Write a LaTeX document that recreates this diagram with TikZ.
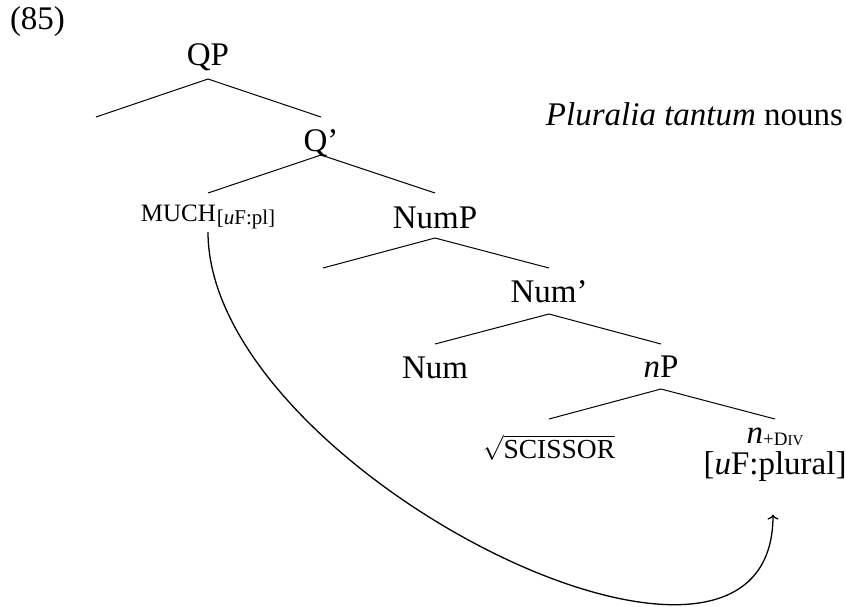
\documentclass[tikz,border=0pt]{standalone}
\usepackage{fontspec}
\setmainfont{Liberation Serif}
\usetikzlibrary{arrows.meta}
\begin{document}
\begin{tikzpicture}[x=1pt,y=-1pt,
  lab/.style={inner sep=0pt, outer sep=0pt, anchor=base, font=\fontsize{33}{40}\selectfont},
  br/.style={line width=1pt},
  arc/.style={line width=1.3pt, -{To[length=5pt,width=11pt]}}
]
\useasboundingbox (0,0) rectangle (846,606);
% labels
\node[lab, anchor=base west] (ex) at (10,29) {(85)};
\node[lab, anchor=base east] (title) at (843,125) {\textit{Pluralia tantum} nouns};
% tree nodes
\node[lab] (qp) at (208,65) {QP};
\node[lab] (qbar) at (321,151) {Q’};
\node[lab] (much) at (208,221) {{\fontsize{25}{28}\selectfont MUCH}\hspace{1pt}\raisebox{-3pt}{\fontsize{21}{24}\selectfont [\textit{u}F:pl]}};
\node[lab] (nump) at (435,228) {NumP};
\node[lab] (numbar) at (549,302) {Num’};
\node[lab] (num) at (435,378) {Num};
\node[lab] (np) at (661,377) {\textit{n}P};
\node[lab] (root) at (549,458) {$\sqrt{\mbox{\fontsize{27.5}{30}\selectfont SCISSOR}}$};
\node[lab, anchor=north, align=center, font=\fontsize{33}{31}\selectfont] (nlf) at (775,428)
  {\textit{n}\raisebox{-1.5pt}{\fontsize{19}{22}\selectfont +D\fontsize{15}{18}\selectfont IV}\\{[}\textit{u}F:plural{]}};
% empty branch ends
\coordinate (e1) at (96,117);
\coordinate (e2) at (323,268);
% branches
\draw[br] (e1) -- ([yshift=-14pt]qp.base) -- ([yshift=34pt]qbar.base);
\draw[br] ([yshift=28pt]much.base) -- ([yshift=-4pt]qbar.base) -- ([yshift=35pt]nump.base);
\draw[br] (e2) -- ([yshift=-10pt]nump.base) -- ([yshift=34pt]numbar.base);
\draw[br] ([yshift=34pt]num.base) -- ([yshift=-12pt]numbar.base) -- ([yshift=33pt]np.base);
\draw[br] ([yshift=39pt]root.base) -- ([yshift=-12pt]np.base) -- ([yshift=9pt]nlf.north);
% feature arrow
\draw[arc] ([yshift=-11pt]much.base) .. controls +(0,238) and +(0,237) .. ([xshift=-2pt,yshift=-33pt]nlf.south);
\end{tikzpicture}
\end{document}
